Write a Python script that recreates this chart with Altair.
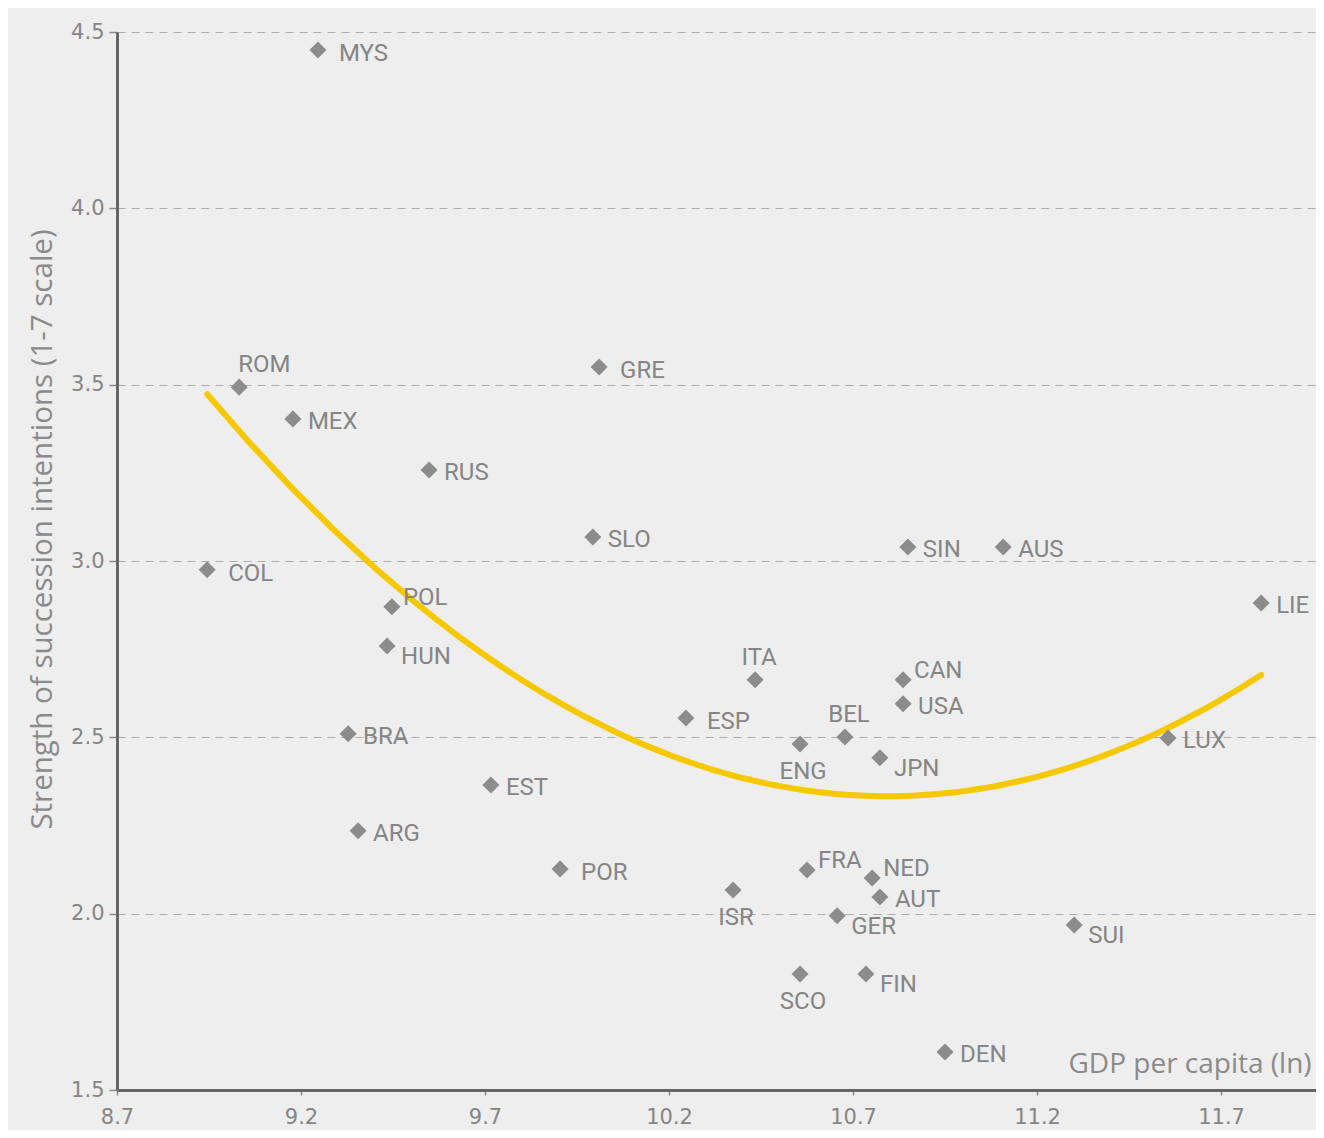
import altair as alt
import pandas as pd

# ---- data ----
countries = ["MYS", "ROM", "MEX", "RUS", "COL", "SLO", "GRE", "POL", "HUN", "BRA",
             "ARG", "EST", "POR", "ESP", "ITA", "ISR", "ENG", "BEL", "JPN", "CAN",
             "USA", "SIN", "AUS", "LIE", "LUX", "SUI", "FRA", "NED", "AUT", "GER",
             "SCO", "FIN", "DEN"]
gdp_ln = [9.246, 9.032, 9.178, 9.548, 8.945, 9.993, 10.010, 9.447, 9.434, 9.328,
          9.355, 9.716, 9.904, 10.246, 10.434, 10.374, 10.556, 10.678, 10.773, 10.836,
          10.836, 10.849, 11.108, 11.809, 11.556, 11.301, 10.575, 10.752, 10.773, 10.657,
          10.556, 10.735, 10.950]
succession = [4.449, 3.493, 3.403, 3.258, 2.975, 3.068, 3.550, 2.870, 2.759, 2.510,
              2.235, 2.365, 2.127, 2.555, 2.663, 2.067, 2.481, 2.501, 2.442, 2.663,
              2.595, 3.040, 3.040, 2.881, 2.498, 1.968, 2.124, 2.101, 2.047, 1.994,
              1.829, 1.829, 1.608]
x_ticks = [8.7, 9.2, 9.7, 10.2, 10.7, 11.2, 11.7]
y_ticks = [1.5, 2.0, 2.5, 3.0, 3.5, 4.0, 4.5]

df = pd.DataFrame({"country": countries, "gdp": gdp_ln, "succession": succession})

# ---- label placement groups (layout only) ----
label_groups = {
    "E":  (["MEX", "RUS", "SLO", "BRA", "ARG", "EST", "USA", "SIN", "AUS", "LUX", "AUT",
            "DEN", "LIE"],
           dict(align="left", dx=15, dy=3)),
    "E2": (["MYS", "COL", "POR", "GRE", "ESP"],
           dict(align="left", dx=21, dy=4)),
    "NE": (["POL", "CAN", "FRA", "NED"],
           dict(align="left", dx=11, dy=-9)),
    "SE": (["HUN", "JPN", "SUI", "GER", "FIN"],
           dict(align="left", dx=14, dy=11)),
    "N":  (["ITA", "BEL"],
           dict(align="center", dx=4, dy=-22)),
    "NL": (["ROM"],
           dict(align="left", dx=-1, dy=-22)),
    "S":  (["ISR", "ENG", "SCO"],
           dict(align="center", dx=3, dy=28)),
}

GRAY_TXT = "#858585"
x_enc = alt.X(
    "gdp:Q",
    scale=alt.Scale(domain=[8.7, 11.958], nice=False, zero=False),
    axis=alt.Axis(
        values=x_ticks, format=".1f", grid=False, labelFlush=False,
        title="GDP per capita (ln)",
        titleX=951, titleY=-18, titleAlign="left", titleBaseline="alphabetic",
        titleFontSize=28, tickSize=5, labelPadding=11,
    ),
)
y_enc = alt.Y(
    "succession:Q",
    scale=alt.Scale(domain=[1.5, 4.5], nice=False, zero=False),
    axis=alt.Axis(
        values=y_ticks, format=".1f", grid=True, labelFlush=False,
        gridDash=[8, 6], gridColor="#ababab", gridWidth=1.2,
        title="Strength of succession intentions (1-7 scale)",
        titleAngle=270, titleX=-75, titleY=497, titleAlign="center",
        titleBaseline="middle", titleFontSize=29.5, tickSize=8, labelPadding=5,
    ),
)

base = alt.Chart(df)

fit = base.transform_regression(
    "gdp", "succession", method="poly", order=2
).mark_line(color="#f5c800", strokeWidth=6, strokeCap="round").encode(x=x_enc, y=y_enc)

points = base.mark_point(
    shape="diamond", filled=True, size=290, color="#8c8c8c", opacity=1
).encode(x=x_enc, y=y_enc)

label_layers = []
for names, opts in label_groups.values():
    label_layers.append(
        base.transform_filter(alt.FieldOneOfPredicate(field="country", oneOf=names))
        .mark_text(font="Roboto", fontSize=24, color=GRAY_TXT, baseline="middle", **opts)
        .encode(x=x_enc, y=y_enc, text="country:N")
    )

chart = alt.layer(fit, points, *label_layers).properties(
    width=1199, height=1058,
    autosize=alt.AutoSizeParams(type="none"),
    padding={"left": 109, "top": 24, "right": 0, "bottom": 40},
    background="#eeeeee",
).configure_view(
    stroke=None, fill="#eeeeee"
).configure_axis(
    domainColor="#666666", domainWidth=3, tickColor="#8a8a8a", tickWidth=1.5,
    labelColor=GRAY_TXT, labelFont="DejaVu Sans", labelFontSize=21,
    titleColor="#8a8a8a", titleFont="Open Sans", titleFontWeight="normal",
)

chart.save("out.html", embed_options={"renderer": "svg", "actions": False})
